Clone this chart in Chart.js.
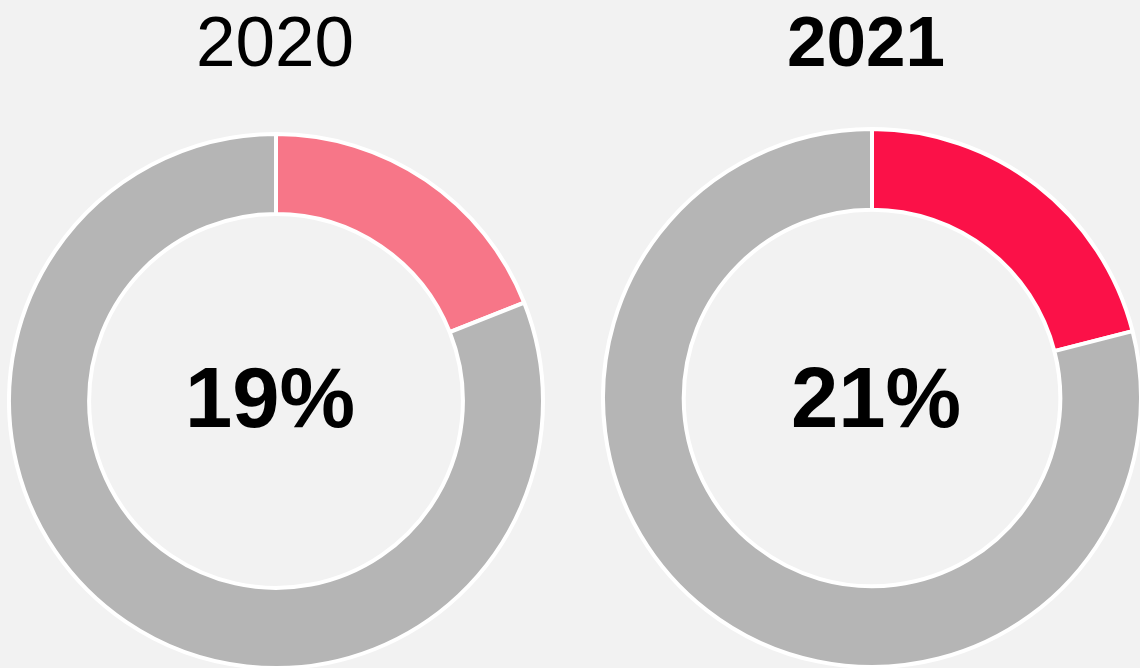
<!DOCTYPE html>
<html>
<head>
<meta charset="utf-8">
<script src="https://cdn.jsdelivr.net/npm/chart.js@4"></script>
<style>
  html, body { margin: 0; padding: 0; }
  body {
    width: 1140px; height: 668px; overflow: hidden; position: relative;
    background: #f2f2f2;
    font-family: "Liberation Sans", Arial, Helvetica, sans-serif;
  }
  .wrap { position: absolute; }
  .wrap canvas { position: absolute; left: 0; top: 0; }
  .year { position: absolute; width: 400px; text-align: center; font-size: 71px; line-height: 1; color: #000; }
  .pct { position: absolute; width: 300px; text-align: center; font-size: 85px; font-weight: bold; line-height: 1; color: #000; }
</style>
</head>
<body>
<div class="year" id="year0" style="left:75px; top:6px;"></div>
<div class="year" id="year1" style="left:666px; top:6px; font-weight:bold;"></div>

<div class="wrap" style="left:7px; top:132px; width:538px; height:538px;"><canvas id="donut0"></canvas></div>
<div class="wrap" style="left:601px; top:127px; width:542px; height:542px;"><canvas id="donut1"></canvas></div>

<div class="pct" id="pct0" style="left:120px; top:355px;"></div>
<div class="pct" id="pct1" style="left:726px; top:355px;"></div>

<script>
// data
const years = ['2020', '2021'];
const shares = [19, 21];
const sliceLabels = ['Share', 'Rest'];
const highlightColors = ['#f77688', '#fb1148'];
const restColor = '#b5b5b5';

years.forEach((year, i) => {
    document.getElementById('year' + i).textContent = year;
    document.getElementById('pct' + i).textContent = shares[i] + '%';

    const ctx = document.getElementById('donut' + i).getContext('2d');
    new Chart(ctx, {
        type: 'doughnut',
        data: {
            labels: sliceLabels,
            datasets: [{
                data: [shares[i], 100 - shares[i]],
                backgroundColor: [highlightColors[i], restColor],
                borderColor: '#ffffff',
                borderWidth: 4
            }]
        },
        options: {
            responsive: true,
            maintainAspectRatio: false,
            animation: false,
            cutout: '70%',
            layout: { padding: 0 },
            plugins: {
                legend: { display: false },
                tooltip: { enabled: false }
            }
        }
    });
});
</script>
</body>
</html>
